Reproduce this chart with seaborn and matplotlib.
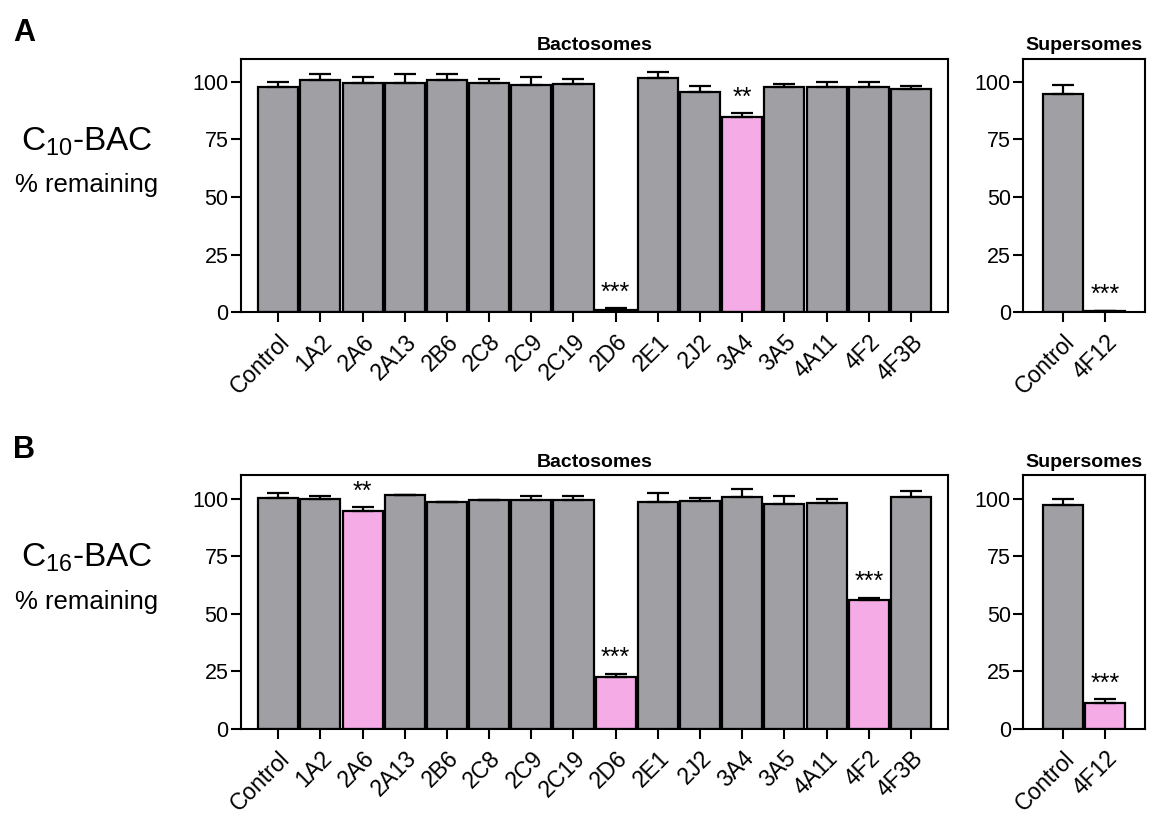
import matplotlib
matplotlib.use("Agg")
import matplotlib.pyplot as plt
import seaborn as sns
import pandas as pd
import numpy as np

GRAY = "#a09fa4"
PINK = "#f5abe6"

# Bactosome isoforms (shared by both panels)
bacto_cyps = ["Control", "1A2", "2A6", "2A13", "2B6", "2C8", "2C9", "2C19",
              "2D6", "2E1", "2J2", "3A4", "3A5", "4A11", "4F2", "4F3B"]
super_cyps = ["Control", "4F12"]

# Panel A: C10-BAC
c10_bacto = [97.7, 100.6, 99.7, 99.7, 100.6, 99.7, 98.7, 99.0,
             0.8, 101.6, 95.8, 84.6, 97.7, 97.8, 97.8, 96.8]
c10_bacto_err = [2.4, 2.7, 2.6, 3.6, 2.7, 1.5, 3.6, 2.2,
                 1.0, 2.6, 2.6, 1.8, 1.4, 2.2, 2.2, 1.6]
c10_bacto_sig = ["", "", "", "", "", "", "", "", "***", "", "", "**", "", "", "", ""]
c10_super = [94.6, 0.3]
c10_super_err = [3.9, 0.3]
c10_super_sig = ["", "***"]

# Panel B: C16-BAC
c16_bacto = [100.4, 99.6, 94.6, 101.7, 98.5, 99.4, 99.4, 99.4,
             22.6, 98.5, 99.0, 100.7, 97.7, 98.0, 55.8, 100.6]
c16_bacto_err = [1.8, 1.6, 1.6, 0.0, 0.0, 0.0, 1.7, 1.7,
                 1.4, 3.7, 1.3, 3.3, 3.5, 1.7, 1.2, 2.6]
c16_bacto_sig = ["", "", "**", "", "", "", "", "", "***", "", "", "", "", "", "***", ""]
c16_super = [97.1, 11.1]
c16_super_err = [2.8, 1.7]
c16_super_sig = ["", "***"]

sns.set_theme(style="white")
plt.rcParams["font.family"] = ["Liberation Sans", "DejaVu Sans"]
plt.rcParams["mathtext.fontset"] = "custom"
plt.rcParams["mathtext.rm"] = "Liberation Sans"
plt.rcParams["mathtext.it"] = "Liberation Sans"
plt.rcParams.update({"text.color": "black", "xtick.color": "black",
                     "ytick.color": "black", "axes.labelcolor": "black"})

fig = plt.figure(figsize=(11.59, 8.17), dpi=100)


def bar_panel(ax, cats, vals, errs, sig, title, xpad):
    colors = [PINK if s else GRAY for s in sig]
    df = pd.DataFrame({"cyp": cats, "val": vals})
    sns.barplot(data=df, x="cyp", y="val", hue="cyp", palette=colors,
                legend=False, width=0.95, edgecolor="black", linewidth=1.6,
                saturation=1, ax=ax)
    x = np.arange(len(cats))
    ax.errorbar(x, vals, yerr=[np.zeros(len(errs)), errs], fmt="none",
                ecolor="black", elinewidth=1.6, capsize=8, capthick=1.6)
    for xi, v, e, s in zip(x, vals, errs, sig):
        if s:
            ax.text(xi, v + e + 1.5, s, ha="center", va="bottom", fontsize=18)
    ax.set_ylim(0, 110)
    ax.set_xlim(-xpad, len(cats) - 1 + xpad)
    ax.set_yticks([0, 25, 50, 75, 100])
    ax.set_xlabel("")
    ax.set_ylabel("")
    ax.set_title(title, fontsize=14, fontweight="bold", pad=6)
    ax.tick_params(axis="both", which="both", direction="out", length=7,
                   width=1.5, labelsize=15.5, bottom=True, left=True, pad=2)
    ax.tick_params(axis="x", labelsize=16.5, pad=6)
    ax.set_xticks(x)
    ax.set_xticklabels(cats, rotation=45, ha="right", rotation_mode="anchor")
    for sp in ax.spines.values():
        sp.set_linewidth(1.5)
        sp.set_color("black")


panels = [
    ("A", "C$_{10}$-BAC", 0.618, c10_bacto, c10_bacto_err, c10_bacto_sig,
     c10_super, c10_super_err, c10_super_sig),
    ("B", "C$_{16}$-BAC", 0.108, c16_bacto, c16_bacto_err, c16_bacto_sig,
     c16_super, c16_super_err, c16_super_sig),
]

for letter, label, bottom, bv, be, bs, sv, se, ss in panels:
    ax1 = fig.add_axes([0.208, bottom, 0.610, 0.310])
    bar_panel(ax1, bacto_cyps, bv, be, bs, "Bactosomes", 0.88)
    ax2 = fig.add_axes([0.883, bottom, 0.105, 0.310])
    bar_panel(ax2, super_cyps, sv, se, ss, "Supersomes", 0.95)
    fig.text(0.011, bottom + 0.341, letter, fontsize=22, fontweight="bold",
             va="center", ha="left")
    fig.text(0.075, bottom + 0.209, label, fontsize=24, ha="center", va="center")
    fig.text(0.075, bottom + 0.155, "% remaining", fontsize=18.5, ha="center",
             va="center")

fig.savefig("out.png", dpi=100)
